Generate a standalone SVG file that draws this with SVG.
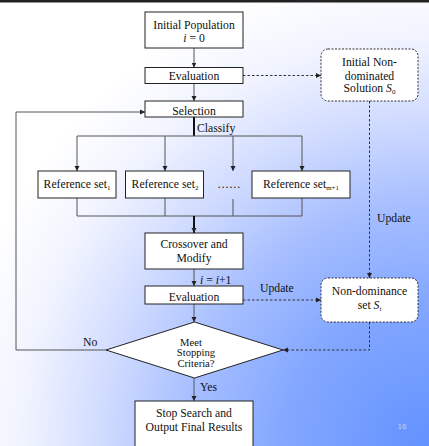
<svg xmlns="http://www.w3.org/2000/svg" width="429" height="446" viewBox="0 0 429 446">
<defs>
<radialGradient id="bg" cx="429" cy="446" r="480" gradientUnits="userSpaceOnUse">
<stop offset="0" stop-color="#6292ff"/>
<stop offset="0.3" stop-color="#83a7ff"/>
<stop offset="0.5" stop-color="#a6beff"/>
<stop offset="0.68" stop-color="#d0dbff"/>
<stop offset="0.85" stop-color="#f1f4ff"/>
<stop offset="1" stop-color="#ffffff"/>
</radialGradient>
<marker id="ah" markerWidth="6" markerHeight="6" refX="5" refY="3" orient="auto" markerUnits="userSpaceOnUse">
<path d="M0,0.5 L5,3 L0,5.5 Z" fill="#222"/>
</marker>
</defs>
<style>
.box{fill:#fff;stroke:#222;stroke-width:1}
.dbox{fill:#fff;stroke:#333;stroke-width:1;stroke-dasharray:2,1.5}
.ln{fill:none;stroke:#555;stroke-width:1}
.thk{fill:none;stroke:#111;stroke-width:2}
.dl{fill:none;stroke:#333;stroke-width:1;stroke-dasharray:2.5,2}
text{font-family:"Liberation Serif","Times New Roman",serif;font-size:11.7px;fill:#111}
.c{text-anchor:middle}
.m{font-style:italic}
.sub{font-size:7px}
.dt{font-size:10.6px}
</style>
<rect x="0" y="0" width="429" height="446" fill="url(#bg)"/>
<rect x="0" y="0" width="429" height="2.5" fill="#222"/>

<g id="connectors">
<line class="ln" x1="194" y1="48" x2="194" y2="67.5" marker-end="url(#ah)"/>
<line class="ln" x1="194" y1="83.5" x2="194" y2="101" marker-end="url(#ah)"/>
<line class="thk" x1="194" y1="117" x2="194" y2="136"/>
<line class="ln" x1="77" y1="136" x2="302" y2="136"/>
<line class="ln" x1="77" y1="136" x2="77" y2="171" marker-end="url(#ah)"/>
<line class="ln" x1="165" y1="136" x2="165" y2="171" marker-end="url(#ah)"/>
<line class="ln" x1="233" y1="136" x2="233" y2="171" marker-end="url(#ah)"/>
<line class="ln" x1="302" y1="136" x2="302" y2="171" marker-end="url(#ah)"/>
<polyline class="ln" points="77,198 77,216 302,216 302,198"/>
<line class="ln" x1="165" y1="198" x2="165" y2="216"/>
<line class="ln" x1="233" y1="199" x2="233" y2="216"/>
<line class="thk" x1="194" y1="216" x2="194" y2="233" marker-end="url(#ah)"/>
<line class="ln" x1="194" y1="269" x2="194" y2="286" marker-end="url(#ah)"/>
<line class="ln" x1="194" y1="304" x2="194" y2="322" marker-end="url(#ah)"/>
<line class="ln" x1="194" y1="378" x2="194" y2="401" marker-end="url(#ah)"/>
<polyline class="ln" points="106,350 16,350 16,112 145,112" marker-end="url(#ah)"/>
<line class="dl" x1="243" y1="75.5" x2="321" y2="75.5" marker-end="url(#ah)"/>
<line class="dl" x1="369.5" y1="101" x2="369.5" y2="278" marker-end="url(#ah)"/>
<line class="dl" x1="243" y1="300" x2="321" y2="300" marker-end="url(#ah)"/>
<polyline class="dl" points="369.5,322 369.5,350 283,350" marker-end="url(#ah)"/>
<text x="197" y="132">Classify</text>
<text x="200" y="284"><tspan class="m">i</tspan> = <tspan class="m">i</tspan>+1</text>
<text x="377" y="222">Update</text>
<text x="260" y="292">Update</text>
<text x="83" y="346">No</text>
<text x="200" y="391">Yes</text>
</g>

<g id="initial-population">
<rect class="box" x="145" y="12" width="98" height="36"/>
<text class="c" x="194" y="29">Initial Population</text>
<text class="c" x="194" y="42"><tspan class="m">i</tspan> = 0</text>
</g>
<g id="evaluation-1">
<rect class="box" x="145" y="67.5" width="98" height="16"/>
<text class="c" x="194" y="80">Evaluation</text>
</g>
<g id="selection">
<rect class="box" x="145" y="101" width="98" height="16"/>
<text class="c" x="194" y="115">Selection</text>
</g>
<g id="ref-set-1">
<rect class="box" x="38" y="171" width="78" height="27"/>
<text class="c" x="77" y="187.5">Reference set<tspan class="sub" dy="2">1</tspan></text>
</g>
<g id="ref-set-2">
<rect class="box" x="125.5" y="171" width="78" height="27"/>
<text class="c" x="165" y="187.5">Reference set<tspan class="sub" dy="2">2</tspan></text>
</g>
<g id="ref-dots">
<text class="c" x="229" y="187.5" fill="#444">……</text>
</g>
<g id="ref-set-m1">
<rect class="box" x="252" y="171" width="98" height="27"/>
<text class="c" x="301" y="187.5">Reference set<tspan class="sub" dy="2">m+1</tspan></text>
</g>
<g id="crossover">
<rect class="box" x="145" y="233" width="98" height="36"/>
<text class="c" x="194" y="248">Crossover and</text>
<text class="c" x="194" y="262">Modify</text>
</g>
<g id="evaluation-2">
<rect class="box" x="145" y="286" width="98" height="18"/>
<text class="c" x="194" y="300.5">Evaluation</text>
</g>
<g id="stopping">
<polygon class="box" points="194.5,322 283,350 194.5,378 106,350"/>
<text class="c dt" x="191" y="345.5">Meet</text>
<text class="c dt" x="196" y="356.3">Stopping</text>
<text class="c dt" x="196" y="367">Criteria?</text>
</g>
<g id="stop-search">
<rect class="box" x="135" y="401" width="118" height="50"/>
<text class="c" x="194" y="417">Stop Search and</text>
<text class="c" x="194" y="431">Output Final Results</text>
</g>
<g id="initial-nondominated">
<rect class="dbox" x="321" y="49" width="97" height="52" rx="7"/>
<text class="c" x="369.5" y="66">Initial Non-</text>
<text class="c" x="369.5" y="80">dominated</text>
<text class="c" x="369.5" y="92">Solution <tspan class="m">S</tspan><tspan class="sub" dy="2">0</tspan></text>
</g>
<g id="nondominance-set">
<rect class="dbox" x="321" y="278" width="97" height="44" rx="7"/>
<text class="c" x="369.5" y="295">Non-dominance</text>
<text class="c" x="369.5" y="309">set <tspan class="m">S</tspan><tspan class="m sub" dy="2">i</tspan></text>
</g>
<text x="402" y="429" text-anchor="middle" style="font-family:'Liberation Sans',Arial,sans-serif;font-size:8px;fill:#c8d0e0">16</text>
</svg>
